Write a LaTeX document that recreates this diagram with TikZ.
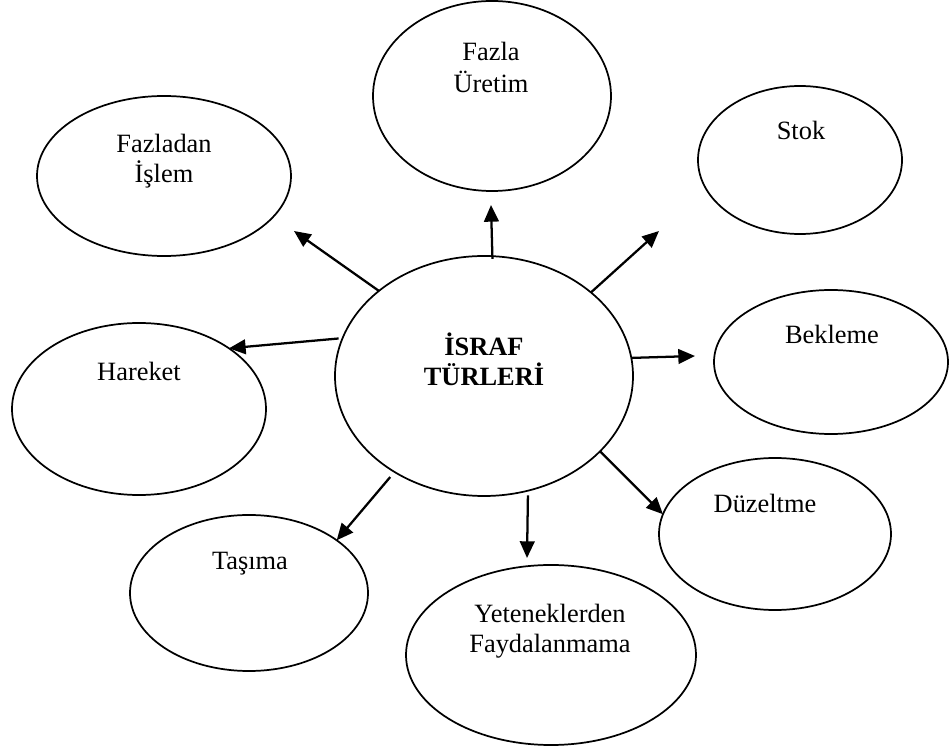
\documentclass[tikz,border=0pt]{standalone}
\usepackage{fontspec}
\setmainfont{Liberation Serif}
\usetikzlibrary{shapes.geometric,arrows.meta}

\begin{document}
\begin{tikzpicture}[x=0.75pt,y=-0.75pt,
  bubble/.style={draw=black,ellipse,line width=1.3pt,inner sep=0pt,outer sep=0pt,fill=white},
  lbl/.style={anchor=base,inner sep=0pt,font=\fontsize{19.8}{24}\selectfont},
  hlbl/.style={lbl,font=\fontsize{19.8}{24}\selectfont\bfseries},
  arr/.style={line width=1.7pt,-{Triangle[length=12.5pt,width=11pt]}}]
\useasboundingbox (0,0) rectangle (951,748);

% central bubble and the eight waste types around it
\node[bubble,minimum width=223.5pt,minimum height=180pt] (c)  at (484,376) {};
\node[bubble,minimum width=178.5pt,minimum height=142.5pt] (fu) at (492,96) {};
\node[bubble,minimum width=153pt,minimum height=111pt]   (st) at (800,160) {};
\node[bubble,minimum width=190.5pt,minimum height=120pt] (fi) at (164,176) {};
\node[bubble,minimum width=190.5pt,minimum height=129pt] (hk) at (139,409) {};
\node[bubble,minimum width=175.5pt,minimum height=108pt] (bk) at (831,362) {};
\node[bubble,minimum width=174pt,minimum height=114pt]   (dz) at (775,534) {};
\node[bubble,minimum width=178.5pt,minimum height=117pt] (ts) at (249,593) {};
\node[bubble,minimum width=217.5pt,minimum height=135pt] (yf) at (551,655) {};

% labels
\node[hlbl] (c1) at (484,356) {İSRAF};
\node[hlbl] (c2) at (484,386) {TÜRLERİ};
\node[lbl] (fu1) at (491,61) {Fazla};
\node[lbl] (fu2) at (491,93) {Üretim};
\node[lbl] (st1) at (801,140) {Stok};
\node[lbl] (fi1) at (164,153) {Fazladan};
\node[lbl] (fi2) at (164,183) {İşlem};
\node[lbl] (hk1) at (139,381) {Hareket};
\node[lbl] (bk1) at (832,344) {Bekleme};
\node[lbl] (dz1) at (765,513) {Düzeltme};
\node[lbl] (ts1) at (250,570) {Taşıma};
\node[lbl] (yf1) at (550,623) {Yeteneklerden};
\node[lbl] (yf2) at (550,653) {Faydalanmama};

% free arrow ends short of their bubbles
\coordinate (tU)  at (491,205);
\coordinate (tUL) at (294,231);
\coordinate (tUR) at (659,231);
\coordinate (tR)  at (695,356);
\coordinate (tD)  at (527,558);

% arrows
\draw[arr,shorten <=-2pt] (c.86.66) -- (tU);
\draw[arr] (c.141.3) -- (tUL);
\draw[arr] (c.38.7)  -- (tUR);
\draw[arr,shorten <=3pt] (c.165.5) -- (hk.34);
\draw[arr] (c.7.75)  -- (tR);
\draw[arr] (c.-33.6) -- (dz.170);
\draw[arr,shorten <=3.5pt] (c.-69.3) -- (tD);
\draw[arr,shorten <=5pt] (c.-133)  -- (ts.31);
\end{tikzpicture}
\end{document}
